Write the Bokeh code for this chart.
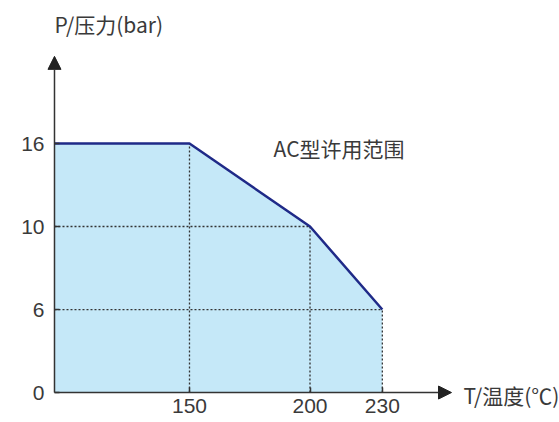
from bokeh.plotting import figure
from bokeh.models import Range1d, FixedTicker, Label, Arrow, NormalHead
from bokeh.embed import file_html
from bokeh.resources import INLINE

# ---- data ----
x_origin = 94            # temperature at the axis origin (unlabelled)
x_axis_end = 258.7       # arrow tip of temperature axis
temperature = [150, 200, 230]
pressure = [16, 10, 6]
y_levels = [0, 6, 10, 16]        # pressure tick labels (schematic, equally spaced)
y_axis_end = 4.05                # arrow tip of pressure axis (in level units)
x_title = "T/温度(℃)"
y_title = "P/压力(bar)"
region_label = "AC型许用范围"

def lvl(v):
    return y_levels.index(v)

env_x = [x_origin] + temperature
env_y = [lvl(pressure[0])] + [lvl(v) for v in pressure]

TXT = "#3a3a3a"
AX = "#333333"
FILL = "#c5e8f8"
NAVY = "#1f2a88"

p = figure(width=559, height=422, output_backend="svg", toolbar_location=None,
           x_range=Range1d(71.6, 303.5), y_range=Range1d(-0.361, 4.723),
           min_border=0)
p.outline_line_color = None
p.xgrid.visible = False
p.ygrid.visible = False

# filled region
poly_x = env_x + [temperature[-1], x_origin]
poly_y = env_y + [lvl(0), lvl(0)]
p.patch(poly_x, poly_y, fill_color=FILL, line_color=None)

# dotted guide lines
for t, pr in zip(temperature, pressure):
    p.line([t, t], [lvl(0), lvl(pr)], line_color=AX, line_width=1.3, line_dash="2 2")
for t, pr in zip(temperature[1:], pressure[1:]):
    p.line([x_origin, t], [lvl(pr), lvl(pr)], line_color=AX, line_width=1.3, line_dash="2 2")

# envelope
p.line(env_x, env_y, line_color=NAVY, line_width=2.5)

# axes (placed at the origin)
for ax in (p.xaxis[0], p.yaxis[0]):
    ax.axis_line_color = None
    ax.major_tick_line_color = AX
    ax.major_tick_line_width = 1.5
    ax.major_tick_in = 5
    ax.major_tick_out = 0
    ax.minor_tick_line_color = None
    ax.major_label_text_font = "Liberation Sans"
    ax.major_label_text_font_size = "21px"
    ax.major_label_text_color = TXT

p.xaxis.fixed_location = 0
p.xaxis.bounds = (x_origin, x_axis_end)
p.xaxis.ticker = FixedTicker(ticks=temperature)
p.xaxis.major_label_standoff = 6
p.yaxis.fixed_location = x_origin
p.yaxis.bounds = (0, y_axis_end)
p.yaxis.ticker = FixedTicker(ticks=list(range(len(y_levels))))
p.yaxis.major_label_overrides = {i: str(v) for i, v in enumerate(y_levels)}
p.yaxis.major_label_standoff = 10

# axis arrows
p.add_layout(Arrow(end=NormalHead(size=13, fill_color="#222222", line_color="#222222"),
                   x_start=x_origin, y_start=0, x_end=x_origin, y_end=y_axis_end,
                   line_color=AX, line_width=1.5))
p.add_layout(Arrow(end=NormalHead(size=13, fill_color="#222222", line_color="#222222"),
                   x_start=x_origin, y_start=0, x_end=x_axis_end, y_end=0,
                   line_color=AX, line_width=1.5))

cjk = "Noto Sans CJK SC"
p.add_layout(Label(x=x_origin, y=4.434, text=y_title, text_font=cjk,
                   text_font_size="21px", text_color=TXT, text_baseline="middle"))
p.add_layout(Label(x=263.7, y=-0.024, text=x_title, text_font=cjk,
                   text_font_size="21px", text_color=TXT, text_baseline="middle"))
p.add_layout(Label(x=184.9, y=2.94, text=region_label, text_font=cjk,
                   text_font_size="21px", text_color=TXT, text_baseline="middle"))

open("out.html", "w").write(file_html(p, INLINE))
